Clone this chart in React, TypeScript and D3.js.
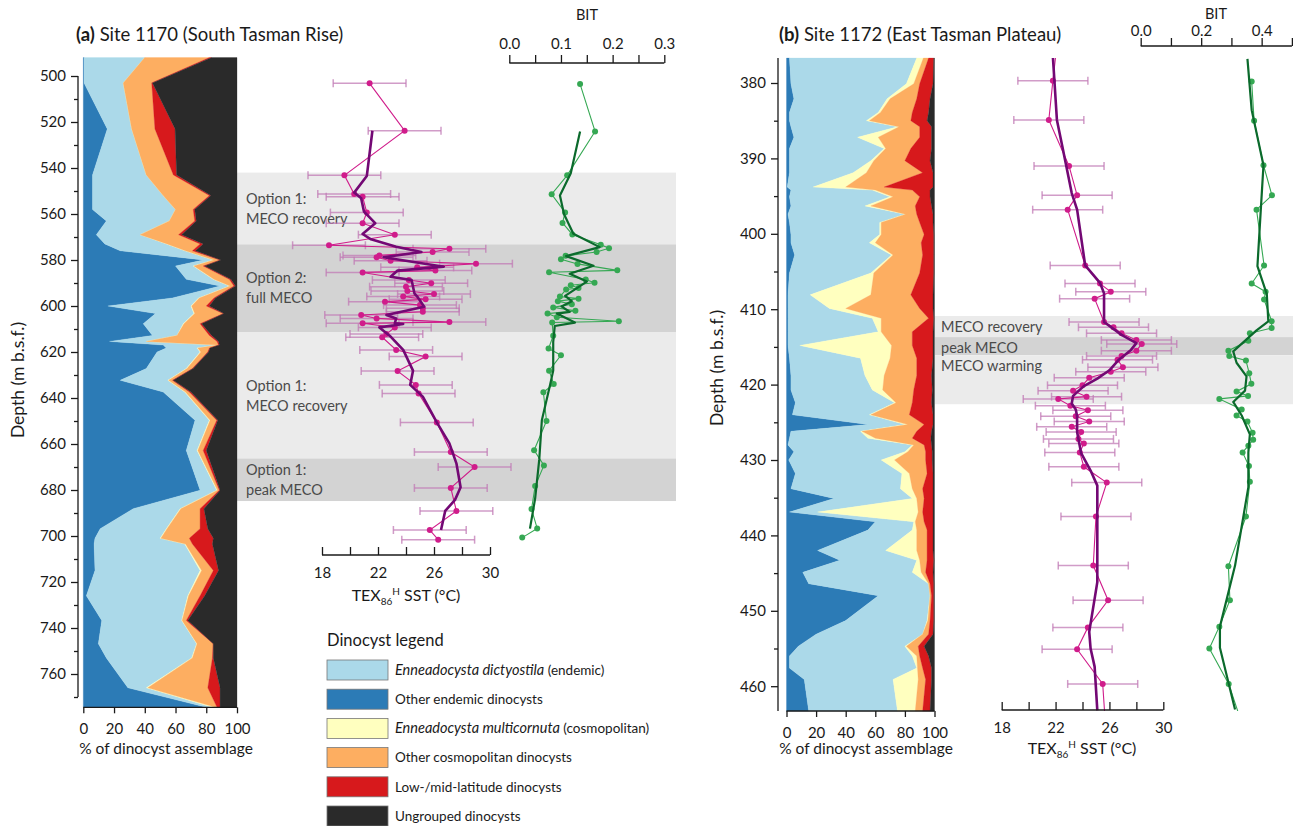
import React, { useEffect, useRef } from 'react';
import * as d3 from 'd3';

// ---------- Site 1170 dinocyst assemblage (% of assemblage) ----------
const depth1170 = [492, 503, 523, 543, 552, 558, 563, 569, 573, 576, 580, 582.6, 588.4, 591.3, 596.5, 600, 603.3, 607.7, 612.8, 615.4, 617, 618.3, 620, 627.2, 632.3, 637.4, 649.7, 662.8, 680.1, 688.1, 696.8, 701, 703.5, 715, 726, 736.7, 746.8, 753, 766, 774.5];
const otherEndemic1170 = [0.5, 0.5, 15.6, 6, 6, 6, 15, 8.5, 14, 24, 78, 60, 67, 89, 58, 16, 47, 39, 45, 17, 52, 54, 48, 41, 24, 52, 72.7, 67, 76, 32.5, 11, 7.6, 7, 7.6, 2, 12, 9.8, 15, 29, 80];
const dictyostila1170 = [39.5, 25.5, 15.9, 35, 46, 54, 41, 28.5, 40, 42, 6.5, 11.5, 17.5, 6, 17, 54, 25, 26, 16, 24, 35, 20, 28, 26, 31, 14, 9.3, 7, 10.8, 30.5, 43, 42.4, 59, 68.4, 66, 52, 63.9, 55.5, 12, 4];
const multicornuta1170 = [0, 0, 0, 0, 0, 0, 0, 0, 0.5, 0.5, 0.5, 0.5, 0.5, 0.5, 0.5, 0.5, 0.5, 0.5, 0, 0, 0.5, 0.5, 0.5, 0.5, 0.5, 0.5, 0.5, 0.5, 0.5, 0.5, 0.5, 0.5, 0.5, 1, 0.5, 0.3, 0.3, 0.5, 1, 2];
const otherCosmo1170 = [42, 18.5, 15.1, 17.6, 30, 11.5, 16.5, 25, 21.5, 4.5, 4, 6, 10, 2.5, 9.5, 9.5, 18.5, 10.5, 21, 46, 0.5, 7.5, 4.5, 3.5, 2.5, 2.5, 4.3, 3.5, 1.2, 12.5, 21.5, 18.5, 4.5, 7.6, 7.5, 2.7, 10.5, 13, 39, 1];
const lowMid1170 = [1.5, 0.5, 13.1, 2.1, 1, 1, 1, 2, 2, 2, 0.5, 1, 1, 1, 1, 2, 0.5, 1, 1.5, 1, 0.5, 0.5, 0.5, 0.5, 0.6, 1, 0.7, 2, 0.5, 2.5, 5, 15.6, 13, 3.4, 3, 1, 0.1, 0.6, 8, 2];
const ungrouped1170 = [16.5, 55, 40.3, 39.3, 17, 27.5, 26.5, 36, 22, 27, 10.5, 21, 4, 1, 14, 18, 8.5, 23, 16.5, 12, 11.5, 17.5, 18.5, 28.5, 41.4, 30, 12.5, 20, 11, 21.5, 19, 15.4, 16, 12, 21, 32, 15.4, 15.4, 11, 11];

// ---------- Site 1172 dinocyst assemblage (% of assemblage) ----------
const depth1172 = [376.7, 380.1, 382.1, 383.9, 385, 385.8, 387.2, 388.7, 390.3, 391.9, 393.8, 394.2, 395.1, 396.3, 397.4, 398.5, 400.1, 401.2, 402.8, 405.2, 408.1, 409.9, 411.2, 413, 414.8, 416.5, 418.8, 420.7, 422.4, 424, 425.3, 426.2, 427.1, 428, 428.9, 430, 431.8, 433.8, 435.1, 436.9, 438.2, 439.3, 442, 443.3, 444.9, 446.4, 448, 451.3, 453.1, 454.7, 456, 457.6, 459.1, 463.3];
const otherEndemic1172 = [2, 3, 5, 2, 2, 3, 5, 2, 2, 2, 0.5, 3, 2, 3, 1, 2, 3, 3, 5.5, 2, 1, 1, 1, 1, 1, 2, 3, 3, 6, 4, 55, 3, 2, 1, 5, 1.5, 6, 3, 32, 2, 60, 55, 21, 36, 11, 15, 62, 40, 20, 8, 2, 2, 12, 15];
const dictyostila1172 = [86, 78, 63, 60, 52, 72, 43, 64, 55, 43, 17.5, 55, 68, 50, 79, 61, 60, 53, 65.5, 55, 15, 28, 57, 61, 8, 48, 50, 55, 67, 52, 25, 47, 53, 84, 75, 62.5, 72, 74, 53, 19, 26, 30, 46, 52, 74, 81, 35, 55, 72, 72, 83, 86, 60, 60];
const multicornuta1172 = [4.5, 5, 2, 1.5, 2, 1, 14, 1, 2, 9, 22, 2, 2, 4, 0.5, 1, 1, 4, 1, 2, 41, 11, 6, 2, 62, 20, 13, 7, 1, 1, 2, 1, 5, 1, 2, 9, 5, 8, 3, 68, 1, 3, 21, 2, 6, 0, 0, 0.5, 0, 1, 3, 0.5, 17, 12];
const otherCosmo1172 = [3.5, 4, 18, 21.5, 28, 14, 28, 17, 21, 38, 26, 25, 18, 30, 7.5, 26, 29, 31, 20, 31, 27, 50, 32, 21, 14, 18, 22, 21, 11, 26, 11, 37, 25, 7, 12, 21, 12, 7, 5, 3, 6, 7, 7, 5, 3, 1, 1, 1.5, 4, 8, 2, 3.5, 5, 5];
const lowMid1172 = [3.5, 9, 9, 11, 11, 8, 8, 14, 17, 7, 33, 12, 7, 11, 11, 9, 6.5, 8.5, 7.5, 9.5, 15, 9, 3.5, 14, 14, 11, 10, 12.5, 13, 16, 6, 10, 12.5, 5, 4.5, 4.5, 4, 7, 6, 7, 6, 4, 4, 4.5, 5, 2.5, 1.5, 2.5, 3, 4, 6, 6, 4, 5];
const ungrouped1172 = [0.5, 1, 3, 4, 5, 2, 2, 2, 3, 1, 1, 3, 3, 2, 1, 1, 0.5, 0.5, 0.5, 0.5, 1, 1, 0.5, 1, 1, 1, 2, 1.5, 2, 1, 1, 2, 2.5, 2, 1.5, 1.5, 1, 1, 1, 1, 1, 1, 1, 0.5, 1, 0.5, 0.5, 0.5, 1, 7, 4, 2, 2, 3];

// ---------- TEX86H SST (°C) ----------
const TEX_ERR = 2.6;
const texDepth1170 = [503.2, 523.8, 543.2, 551.3, 552.5, 559.4, 564, 569, 573.6, 575.1, 576.5, 578, 578.8, 580.3, 581.6, 583.2, 584.6, 585.4, 588.7, 590.1, 591.6, 593.5, 594.8, 595.9, 597.1, 598.1, 599.6, 601, 602.5, 603.9, 605.4, 607, 607.5, 609.3, 612.2, 613.6, 619.1, 622, 628.3, 634.3, 638, 650.6, 663.5, 670, 679.1, 689.1, 697.4, 701.6];
const tex1170 = [21.4, 23.9, 19.6, 20.3, 20.9, 21.2, 20.9, 23.2, 18.5, 27.1, 25.9, 22.1, 21.9, 22.9, 29.0, 24.8, 26.1, 20.9, 24.2, 25.8, 24.0, 24.1, 26.0, 23.8, 25.4, 22.5, 25.0, 25.2, 25.2, 20.8, 21.9, 27.1, 20.9, 23.2, 22.6, 22.3, 23.3, 25.4, 23.4, 24.7, 24.9, 26.2, 27.2, 28.9, 27.2, 27.6, 25.7, 26.3];
const texSmoothDepth1170 = [523.8, 543.5, 550.7, 553.2, 559, 564, 568.7, 571, 574.2, 576.5, 578.8, 582.9, 584.6, 587.3, 588.7, 594.5, 595.9, 600.3, 603.9, 605.4, 607.5, 607.8, 609.3, 613.3, 619.1, 628.1, 634.3, 639.4, 650.6, 659.7, 668.4, 678.8, 684.3, 689.1, 697.4];
const texSmooth1170 = [21.6, 21.2, 20.3, 20.8, 21.0, 21.8, 20.9, 21.5, 23.3, 25.1, 22.4, 26.7, 23.4, 22.9, 24.4, 24.6, 24.8, 25.3, 22.6, 23.3, 23.2, 23.8, 22.1, 22.9, 23.8, 24.5, 24.3, 25.2, 26.2, 27.1, 27.6, 27.9, 27.5, 26.8, 26.5];

const texDepth1172 = [375, 379.7, 384.9, 391, 394.9, 396.8, 404.2, 406.6, 407.7, 408.6, 411.7, 412.4, 413.2, 414.1, 414.6, 415.5, 416.2, 416.7, 417.7, 418.3, 419.1, 420.1, 420.8, 421.6, 421.9, 422.8, 423.4, 424.2, 424.9, 425.6, 426.3, 427.2, 427.8, 429, 430.9, 433, 437.5, 444, 448.6, 452.2, 455.1, 459.7, 465];
const tex1172 = [22.1, 21.8, 21.5, 23.0, 23.6, 22.9, 24.2, 25.3, 26.1, 24.9, 25.6, 26.3, 26.9, 28.0, 28.4, 28.0, 26.9, 26.6, 27.0, 26.1, 24.5, 24.0, 23.3, 24.3, 22.2, 23.1, 24.4, 23.5, 24.5, 23.2, 23.9, 23.7, 24.1, 23.8, 24.1, 25.8, 25.0, 24.8, 25.9, 24.4, 23.6, 25.5, 25.7];
const texSmoothDepth1172 = [376.5, 384.9, 388.4, 394.6, 396.8, 404.2, 406.5, 407.9, 411.7, 413.4, 414.5, 415.4, 416.7, 418.1, 419.2, 420.2, 421.5, 422.5, 423.3, 424.2, 426.3, 429.1, 431.4, 433.4, 441.8, 446.2, 452.8, 455, 457.4, 463.2];
const texSmooth1172 = [21.8, 22.1, 22.5, 23.2, 23.6, 24.2, 25.3, 25.6, 25.6, 26.9, 28.0, 27.6, 26.7, 26.0, 25.1, 24.1, 23.3, 23.2, 23.5, 23.6, 23.6, 23.9, 24.6, 25.1, 25.1, 25.1, 24.5, 24.6, 24.9, 25.1];

// ---------- BIT index ----------
const bitDepth1170 = [503.5, 524.1, 543.2, 551.4, 559.3, 563.9, 568.9, 573.4, 574.9, 576.5, 578.2, 579.7, 581.7, 584.5, 585.3, 588.5, 589.9, 591, 592.2, 592.8, 595.9, 596.8, 597.9, 599.2, 600.6, 602.1, 603.3, 604.9, 606.6, 607.2, 612.9, 618.5, 621.4, 628.1, 633.9, 637.5, 650, 662.7, 669.3, 678.3, 688.3, 696.7, 700.7];
const bit1170 = [0.137, 0.166, 0.112, 0.082, 0.108, 0.103, 0.122, 0.177, 0.193, 0.169, 0.109, 0.100, 0.132, 0.209, 0.077, 0.148, 0.165, 0.119, 0.134, 0.110, 0.098, 0.134, 0.094, 0.121, 0.085, 0.128, 0.074, 0.092, 0.212, 0.083, 0.085, 0.076, 0.100, 0.077, 0.086, 0.066, 0.072, 0.048, 0.067, 0.050, 0.043, 0.054, 0.025];
const bitSmoothDepth1170 = [524.1, 542.3, 552, 560.1, 568.6, 574.4, 578.3, 582.5, 586, 589.4, 595.6, 597.9, 600.2, 602.6, 603.3, 607.2, 608.7, 615.7, 628.1, 634.2, 649.7, 666.7, 683.7, 696.8];
const bitSmooth1170 = [0.137, 0.119, 0.098, 0.106, 0.124, 0.175, 0.110, 0.163, 0.117, 0.150, 0.108, 0.121, 0.101, 0.117, 0.092, 0.127, 0.088, 0.085, 0.085, 0.079, 0.063, 0.058, 0.050, 0.040];

const bitDepth1172 = [379.8, 385, 390.9, 394.9, 396.8, 404.2, 406.6, 407.7, 408.7, 411.6, 412.5, 413.2, 414.2, 415.5, 416.2, 416.8, 418.5, 419.9, 420.9, 421.5, 421.9, 423.3, 424.1, 424.9, 426.4, 427.3, 428.1, 429, 430.8, 432.9, 437.5, 444.1, 448.6, 452.1, 455, 459.7, 465];
const bit1172 = [0.367, 0.375, 0.406, 0.434, 0.383, 0.408, 0.367, 0.413, 0.408, 0.433, 0.433, 0.361, 0.356, 0.290, 0.293, 0.348, 0.359, 0.366, 0.317, 0.355, 0.260, 0.334, 0.317, 0.353, 0.370, 0.372, 0.356, 0.337, 0.358, 0.361, 0.348, 0.290, 0.295, 0.260, 0.227, 0.291, 0.335];
const bitSmoothDepth1172 = [376.8, 383.6, 390.9, 404.3, 408, 411.6, 412.8, 415.6, 417.1, 418.9, 420.8, 422.3, 424.1, 426.6, 429, 433.6, 444, 452.1, 454.9, 463.1];
const bitSmooth1172 = [0.353, 0.367, 0.406, 0.386, 0.417, 0.422, 0.383, 0.306, 0.317, 0.350, 0.345, 0.306, 0.334, 0.361, 0.356, 0.356, 0.312, 0.262, 0.262, 0.312];

// ---------- MECO intervals ----------
const bandTop1170 = [542, 573.2, 611.5, 666.3];
const bandBase1170 = [573.2, 611.5, 666.3, 684.8];
const bandKind1170 = ['recovery', 'full', 'recovery', 'peak'];
const bandLabel1170 = [['Option 1:', 'MECO recovery'], ['Option 2:', 'full MECO'], ['Option 1:', 'MECO recovery'], ['Option 1:', 'peak MECO']];
const bandTop1172 = [410.9, 413.7, 416.1];
const bandBase1172 = [413.7, 416.1, 422.6];
const bandKind1172 = ['recovery', 'peak', 'warming'];
const bandLabel1172 = ['MECO recovery', 'peak MECO', 'MECO warming'];

const layerKeys = ['otherEndemic', 'dictyostila', 'multicornuta', 'otherCosmo', 'lowMid', 'ungrouped'];
const layerColor: Record<string, string> = {
  otherEndemic: '#2c7bb6',
  dictyostila: '#abd9e9',
  multicornuta: '#ffffbf',
  otherCosmo: '#fdae61',
  lowMid: '#d7191c',
  ungrouped: '#2a2a2a',
};
const legendKeys = ['dictyostila', 'otherEndemic', 'multicornuta', 'otherCosmo', 'lowMid', 'ungrouped'];
const legendItalic = ['Enneadocysta dictyostila', '', 'Enneadocysta multicornuta', '', '', ''];
const legendText = [' (endemic)', 'Other endemic dinocysts', ' (cosmopolitan)', 'Other cosmopolitan dinocysts', 'Low-/mid-latitude dinocysts', 'Ungrouped dinocysts'];

const FONT = 'Lato, "Open Sans", sans-serif';
const INK = '#1a1a1a';
const shade = (kind: string) => (kind === 'full' || kind === 'peak' ? '#d3d3d3' : '#ebebeb');

function styleAxis(g: any, size = 15) {
  g.select('.domain').remove();
  g.selectAll('line').attr('stroke', INK).attr('stroke-width', 1.3);
  g.selectAll('text').attr('font-size', size).attr('fill', INK).attr('font-family', FONT);
}

function drawStack(g: any, depth: number[], cols: number[][], x: any, y: any) {
  const rows = depth.map((d, i) => {
    const r: any = { depth: d };
    layerKeys.forEach((k, j) => { r[k] = cols[j][i]; });
    return r;
  });
  const series = d3.stack().keys(layerKeys)(rows);
  const area = d3.area<any>()
    .y((d) => y(d.data.depth))
    .x0((d) => x(d[0]))
    .x1((d) => x(d[1]));
  g.selectAll('path.layer').data(series).join('path')
    .attr('class', 'layer')
    .attr('d', area)
    .attr('fill', (s: any) => layerColor[s.key])
    .attr('stroke', (s: any) => layerColor[s.key])
    .attr('stroke-width', 0.3);
}

function drawProxy(g: any, depth: number[], vals: number[], sDepth: number[], sVals: number[], x: any, y: any, o: any) {
  const pts = depth.map((d, i) => ({ d, v: vals[i] }));
  const sm = sDepth.map((d, i) => ({ d, v: sVals[i] }));
  if (o.err) {
    const eb = g.append('g').attr('stroke', '#c27bb6').attr('stroke-opacity', 0.75).attr('stroke-width', 1.5);
    pts.forEach((p) => {
      const yy = y(p.d);
      const xa = x(p.v - o.err);
      const xb = x(p.v + o.err);
      eb.append('line').attr('x1', xa).attr('x2', xb).attr('y1', yy).attr('y2', yy);
      eb.append('line').attr('x1', xa).attr('x2', xa).attr('y1', yy - 4).attr('y2', yy + 4);
      eb.append('line').attr('x1', xb).attr('x2', xb).attr('y1', yy - 4).attr('y2', yy + 4);
    });
  }
  const line = d3.line<any>().x((p) => x(p.v)).y((p) => y(p.d));
  g.append('path').attr('d', line(pts)).attr('fill', 'none').attr('stroke', o.thin).attr('stroke-width', 1.1);
  g.selectAll('circle.pt').data(pts).join('circle').attr('class', 'pt')
    .attr('cx', (p: any) => x(p.v)).attr('cy', (p: any) => y(p.d)).attr('r', 3).attr('fill', o.thin);
  g.append('path').attr('d', line(sm)).attr('fill', 'none').attr('stroke', o.thick).attr('stroke-width', o.thickW)
    .attr('stroke-linejoin', 'round');
}

function drawBands(svg: any, top: number[], base: number[], kind: string[], y: any, x0: number, x1: number) {
  top.forEach((t, i) => {
    svg.append('rect').attr('x', x0).attr('width', x1 - x0)
      .attr('y', y(t)).attr('height', y(base[i]) - y(t)).attr('fill', shade(kind[i]));
  });
}

function depthAxis(svg: any, y: any, xPos: number, major: number[], minor: number[], from: number, to: number) {
  const g = svg.append('g').attr('transform', `translate(${xPos},0)`);
  g.append('g').call(d3.axisLeft(y).tickValues(major).tickSize(7).tickPadding(5).tickFormat(d3.format('d')));
  g.append('g').call(d3.axisLeft(y).tickValues(minor).tickSize(4).tickFormat(() => ''));
  g.selectAll('g').each(function (this: any) { styleAxis(d3.select(this)); });
  g.append('line').attr('x1', 0).attr('x2', 0).attr('y1', y(from)).attr('y2', y(to))
    .attr('stroke', INK).attr('stroke-width', 1.3);
}

function hAxis(svg: any, x: any, yPos: number, ticks: number[], size: number, pad: number, fmt: any) {
  const g = svg.append('g').attr('transform', `translate(0,${yPos})`);
  g.call(d3.axisBottom(x).tickValues(ticks).tickSize(size).tickPadding(pad).tickFormat(fmt));
  styleAxis(g);
  const [a, b] = x.range();
  g.append('line').attr('x1', a).attr('x2', b).attr('stroke', INK).attr('stroke-width', 1.3);
}

function bitAxis(svg: any, x: any, yPos: number, ticks: number[], labelled: number[], pad: number) {
  const g = svg.append('g').attr('transform', `translate(0,${yPos})`);
  g.call(d3.axisTop(x).tickValues(ticks).tickSize(8).tickPadding(pad)
    .tickFormat((d: any) => (labelled.some((l) => Math.abs(l - d) < 1e-6) ? d3.format('.1f')(d) : '')));
  styleAxis(g);
  const [a, b] = x.range();
  g.append('line').attr('x1', a).attr('x2', b).attr('stroke', INK).attr('stroke-width', 1.3);
}

function texTitle(svg: any, cx: number, yBase: number) {
  const t = svg.append('text').attr('x', cx).attr('y', yBase).attr('text-anchor', 'middle')
    .attr('font-size', 16).attr('fill', INK).style('white-space', 'pre');
  t.append('tspan').text('TEX');
  t.append('tspan').attr('dy', 4).attr('font-size', 10).text('86');
  t.append('tspan').attr('dy', -10).attr('font-size', 10).text('H');
  t.append('tspan').attr('dy', 6).text(' SST (°C)');
}

function panelTitle(svg: any, x: number, tag: string, rest: string) {
  const t = svg.append('text').attr('x', x).attr('y', 41).attr('font-size', 18.5).attr('fill', INK).style('white-space', 'pre');
  t.append('tspan').attr('font-weight', 'bold').text(tag);
  t.append('tspan').text(rest);
}

function yTitle(svg: any, x: number, y: number) {
  svg.append('text').attr('transform', `translate(${x},${y}) rotate(-90)`).attr('text-anchor', 'middle')
    .attr('font-size', 17.5).attr('fill', INK).text('Depth (m b.s.f.)');
}

export default function App() {
  const ref = useRef<SVGSVGElement>(null);

  useEffect(() => {
    const svg = d3.select(ref.current);
    svg.selectAll('*').remove();

    // ---------------- panel (a) Site 1170 ----------------
    const yA = d3.scaleLinear().domain([500, 760]).range([76, 674]);
    const xAreaA = d3.scaleLinear().domain([0, 100]).range([83.3, 237]);
    const xTexA = d3.scaleLinear().domain([18, 30]).range([322, 490]);
    const xBitA = d3.scaleLinear().domain([0, 0.3]).range([509.3, 664.3]);

    drawBands(svg, bandTop1170, bandBase1170, bandKind1170, yA, 237, 676);
    bandLabel1170.forEach((lines, i) => {
      const mid = (yA(bandTop1170[i]) + yA(bandBase1170[i])) / 2;
      lines.forEach((s, j) => {
        svg.append('text').attr('x', 246).attr('y', mid - 10 + j * 20).attr('dy', '0.35em')
          .attr('font-size', 14.5).attr('fill', '#4a4a4a').text(s);
      });
    });

    drawStack(svg.append('g'), depth1170,
      [otherEndemic1170, dictyostila1170, multicornuta1170, otherCosmo1170, lowMid1170, ungrouped1170], xAreaA, yA);

    depthAxis(svg, yA, 78, d3.range(500, 761, 20), d3.range(510, 771, 20), 500, 770);
    hAxis(svg, xAreaA, 707.3, d3.range(0, 101, 20), 6, 10, d3.format('d'));
    svg.append('text').attr('x', 166).attr('y', 754).attr('text-anchor', 'middle').attr('font-size', 15.5)
      .attr('fill', INK).text('% of dinocyst assemblage');
    yTitle(svg, 24, 380);
    panelTitle(svg, 76, '(a)', ' Site 1170 (South Tasman Rise)');

    drawProxy(svg.append('g'), texDepth1170, tex1170, texSmoothDepth1170, texSmooth1170, xTexA, yA,
      { err: TEX_ERR, thin: '#d01c8b', thick: '#730874', thickW: 2.6 });
    hAxis(svg, xTexA, 555, d3.range(18, 31, 2), -8, 12, (d: any) => (d % 4 === 2 ? d : ''));
    texTitle(svg, 406, 601);

    drawProxy(svg.append('g'), bitDepth1170, bit1170, bitSmoothDepth1170, bitSmooth1170, xBitA, yA,
      { thin: '#35a853', thick: '#0b6a2c', thickW: 2.2 });
    bitAxis(svg, xBitA, 63, [0, 0.05, 0.1, 0.15, 0.2, 0.25, 0.3], [0, 0.1, 0.2, 0.3], 6);
    svg.append('text').attr('x', 587).attr('y', 20).attr('text-anchor', 'middle').attr('font-size', 14.5)
      .attr('fill', INK).text('BIT');

    // ---------------- legend ----------------
    svg.append('text').attr('x', 327).attr('y', 646).attr('font-size', 16.5).attr('fill', INK).text('Dinocyst legend');
    legendKeys.forEach((k, i) => {
      const top = 660 + i * 29.2;
      svg.append('rect').attr('x', 327).attr('y', top).attr('width', 61).attr('height', 20)
        .attr('fill', layerColor[k]).attr('stroke', '#777').attr('stroke-width', 0.8);
      const t = svg.append('text').attr('x', 395).attr('y', top + 10).attr('dy', '0.35em')
        .attr('font-size', 13.5).attr('fill', INK).style('white-space', 'pre');
      if (legendItalic[i]) t.append('tspan').attr('font-style', 'italic').attr('font-size', 14.5).text(legendItalic[i]);
      t.append('tspan').text(legendText[i]);
    });

    // ---------------- panel (b) Site 1172 ----------------
    const yB = d3.scaleLinear().domain([380, 460]).range([83, 686.2]);
    const xAreaB = d3.scaleLinear().domain([0, 100]).range([786.5, 934.5]);
    const xTexB = d3.scaleLinear().domain([18, 30]).range([1001.7, 1163.3]);
    const xBitB = d3.scaleLinear().domain([0, 0.5]).range([1140.7, 1291.9]);

    drawBands(svg, bandTop1172, bandBase1172, bandKind1172, yB, 935, 1293);
    bandLabel1172.forEach((s, i) => {
      svg.append('text').attr('x', 941).attr('y', yB(bandTop1172[i]) + 11).attr('dy', '0.35em')
        .attr('font-size', 14.5).attr('fill', '#4a4a4a').text(s);
    });

    drawStack(svg.append('g'), depth1172,
      [otherEndemic1172, dictyostila1172, multicornuta1172, otherCosmo1172, lowMid1172, ungrouped1172], xAreaB, yB);

    depthAxis(svg, yB, 778, d3.range(380, 461, 10), d3.range(385, 456, 10), 376.7, 463.3);
    hAxis(svg, xAreaB, 711, d3.range(0, 101, 20), 6, 10, d3.format('d'));
    svg.append('text').attr('x', 866).attr('y', 754).attr('text-anchor', 'middle').attr('font-size', 15.5)
      .attr('fill', INK).text('% of dinocyst assemblage');
    yTitle(svg, 723, 368);
    panelTitle(svg, 779, '(b)', ' Site 1172 (East Tasman Plateau)');

    svg.append('clipPath').attr('id', 'clipB').append('rect')
      .attr('x', 940).attr('y', yB(376.7)).attr('width', 353).attr('height', yB(463.3) - yB(376.7));
    drawProxy(svg.append('g').attr('clip-path', 'url(#clipB)'), texDepth1172, tex1172, texSmoothDepth1172, texSmooth1172, xTexB, yB,
      { err: TEX_ERR, thin: '#d01c8b', thick: '#730874', thickW: 2.6 });
    hAxis(svg, xTexB, 710, d3.range(18, 31, 2), -8, 12, (d: any) => (d % 4 === 2 ? d : ''));
    texTitle(svg, 1082, 754);

    drawProxy(svg.append('g').attr('clip-path', 'url(#clipB)'), bitDepth1172, bit1172, bitSmoothDepth1172, bitSmooth1172, xBitB, yB,
      { thin: '#35a853', thick: '#0b6a2c', thickW: 2.2 });
    bitAxis(svg, xBitB, 46, [0, 0.1, 0.2, 0.3, 0.4, 0.5], [0, 0.2, 0.4], 2);
    svg.append('text').attr('x', 1216).attr('y', 19).attr('text-anchor', 'middle').attr('font-size', 14.5)
      .attr('fill', INK).text('BIT');
  }, []);

  return (
    <svg ref={ref} width={1293} height={826}
      style={{ position: 'absolute', left: 0, top: 0, background: '#fff', fontFamily: FONT }} />
  );
}
